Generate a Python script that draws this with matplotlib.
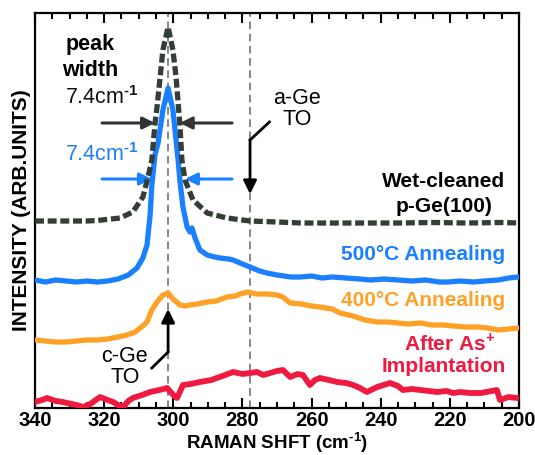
import matplotlib
matplotlib.use('Agg')
import matplotlib.pyplot as plt

plt.rcParams['font.family'] = ['Liberation Sans', 'DejaVu Sans']
plt.rcParams['font.weight'] = 'bold'
plt.rcParams['mathtext.fontset'] = 'custom'
plt.rcParams['mathtext.rm'] = 'Liberation Sans:bold'
plt.rcParams['mathtext.bf'] = 'Liberation Sans:bold'

# wet-cleaned p-Ge(100) reference
wet_x = [340, 335, 330, 325, 322, 318, 315.4, 311.7, 308.8, 307.3, 306.2, 305.3, 304.7, 303.8,
         303.0, 301.5, 300.1, 299.2, 298.5, 298.1, 297.5, 296.6, 294.3, 290.2, 284.5, 277.8,
         270, 263, 255, 245, 235, 225, 215, 205, 200]
wet_y = [187, 187, 187, 187, 187.5, 189, 190, 196, 211, 231, 248, 284, 301, 331,
         358, 381, 358, 331, 301, 284, 248, 228, 208, 195, 190, 187,
         186, 185, 185, 185, 185, 185.5, 185, 185.5, 185]

# 500C anneal
a500_x = [340, 337, 334, 331, 328, 325, 322, 319, 316, 313, 310.5, 308.8, 307.6, 306.7, 306.2,
          305.3, 304.4, 303.0, 301.5, 300.1, 299.2, 298.6, 298.1, 297.2, 296.0, 295.2, 294.6,
          293.7, 292.3, 290.2, 288, 286.5, 284, 282.7, 280, 277.8, 275, 272.9, 270, 266, 263.3,
          260, 257, 254, 250, 246, 243, 239, 235, 231, 227, 223, 220.5, 217, 213, 210, 206,
          203, 200.3]
a500_y = [128, 126, 128, 127, 126, 127, 126, 127, 129, 133, 140, 150, 163, 193, 223,
          253, 265, 298, 320, 298, 268, 248, 228, 201, 181, 176, 180,
          170, 158, 153, 151, 150, 149, 148, 144, 141, 137, 135, 133, 131, 131,
          132, 130, 131, 130, 129, 128, 129, 128, 127, 128, 126, 126, 127, 126, 127, 128,
          130, 131]

# 400C anneal
a400_x = [340, 337, 334, 331, 328, 325, 322, 319, 316, 313.4, 311, 309.6, 308.5, 307.6, 306.2,
          304.7, 303.0, 301.5, 300.1, 299, 298.1, 296.5, 295.2, 293, 290.2, 287.5, 284.5, 282,
          280.7, 278.4, 276, 272.9, 270, 268.3, 266.2, 263, 260, 257.6, 254, 251.8, 248, 244.5,
          241, 238, 235, 232, 228.6, 225.2, 222, 219, 215.6, 212, 209, 206.1, 203, 200.3]
a400_y = [68, 67, 66, 66, 67, 68, 68, 69, 71, 73, 76, 80, 83, 86, 98,
          106, 113, 115, 109, 106, 103, 102, 103, 104, 106, 107, 111, 112,
          114, 116, 114, 114, 113, 111, 105, 104, 102, 101, 99, 95, 92, 88,
          86, 86, 85, 84, 85, 83, 83, 82, 81, 81, 80, 78, 79, 80]

# as-implanted
imp_x = [340, 338, 336.5, 334, 332, 330.7, 328, 326.1, 324, 321.2, 319, 317.4, 315.5, 314.5, 313,
         311.7, 309, 306.7, 304, 301.8, 300.5, 299.5, 298.9, 297.2, 295, 292.3, 289, 287.4, 285,
         282.7, 280, 277.8, 275.8, 274, 272, 270, 268.3, 266.2, 264, 262.5, 260.5, 259, 257.6,
         255, 252.6, 250, 248, 246, 244, 241, 237.3, 235, 233.6, 231, 228.6, 226, 223.7, 221,
         219.1, 217, 214.2, 211, 208, 206.4, 205.5, 203, 200.6]
imp_y = [6, 8, 10, 7, 6, 5, 3, 1, 4, 11, 8, 6, 2, 1, 7,
         10, 13, 16, 18, 20, 15, 11, 10, 23, 24, 26, 28, 30, 33,
         36, 34, 35, 36, 33, 35, 37, 38, 31, 34, 33, 23, 28, 30,
         28, 26, 25, 23, 20, 16, 21, 25, 22, 18, 19, 18, 17, 16, 17,
         15, 16, 15, 15, 17, 18, 8, 11, 10]

c_ge_to = 301.5
a_ge_to = 277.8
xticks = [340, 320, 300, 280, 260, 240, 220, 200]

GRAY = '#333e34'
BLUE = '#1a80ff'
ORANGE = '#ffa126'
RED = '#f0193f'

FS_LAB = 15
FS_TXT = 15.5

fig = plt.figure(figsize=(5.35, 4.55), dpi=100)
ax = fig.add_axes([0.0654, 0.1033, 0.9047, 0.8681])

ax.axvline(c_ge_to, color='#666666', lw=1.1, ls=(0, (5, 3)), zorder=1)
ax.axvline(a_ge_to, color='#666666', lw=1.1, ls=(0, (5, 3)), zorder=1)

ax.plot(imp_x, imp_y, color=RED, lw=4.2, solid_joinstyle='round', zorder=3)
ax.plot(a400_x, a400_y, color=ORANGE, lw=3.8, solid_joinstyle='round', zorder=3)
ax.plot(a500_x, a500_y, color=BLUE, lw=3.8, solid_joinstyle='round', zorder=3)
ax.plot(wet_x, wet_y, color=GRAY, lw=3.8, dashes=(1.7, 0.7), dash_capstyle='butt', zorder=4)

ax.set_xlim(340, 200)
ax.set_ylim(0, 395)
ax.set_xticks(xticks)
ax.set_xticks(range(200, 341, 5), minor=True)
ax.set_yticks([])
ax.tick_params(axis='x', which='major', direction='in', top=True, length=7, width=1.5,
               labelsize=14.5, pad=2)
ax.tick_params(axis='x', which='minor', direction='in', top=True, length=4.5, width=1.5)
for lab in ax.get_xticklabels():
    lab.set_fontweight('bold')
for sp in ax.spines.values():
    sp.set_linewidth(1.6)

ax.set_xlabel(r'RAMAN SHFT (cm$^{\text{-1}}$)', fontsize=13.5, fontweight='bold', labelpad=0)
ax.set_ylabel('INTENSITY (ARB.UNITS)', fontsize=FS_LAB, fontweight='bold', labelpad=3)

# peak width annotations
ax.text(324.1, 364, 'peak', fontsize=FS_TXT, ha='center', va='center')
ax.text(324.1, 338, 'width', fontsize=FS_TXT, ha='center', va='center')
ax.text(320.6, 310, r'7.4cm$^{\text{-1}}$', fontsize=FS_TXT, ha='center', va='center',
        fontweight='normal', color='#111111')
ax.text(320.6, 253, r'7.4cm$^{\text{-1}}$', fontsize=FS_TXT, ha='center', va='center',
        fontweight='normal', color=BLUE)

arr_k = dict(arrowstyle='-|>', color='#333333', lw=2.2, mutation_scale=18, shrinkA=0, shrinkB=0)
ax.annotate('', xy=(305.3, 285), xytext=(320.6, 285), arrowprops=arr_k)
ax.annotate('', xy=(298.1, 285), xytext=(283.0, 285), arrowprops=arr_k)
arr_b = dict(arrowstyle='-|>', color=BLUE, lw=2.2, mutation_scale=18, shrinkA=0, shrinkB=0)
ax.annotate('', xy=(306.2, 229), xytext=(320.6, 229), arrowprops=arr_b)
ax.annotate('', xy=(296.6, 229), xytext=(283.0, 229), arrowprops=arr_b)

# a-Ge TO
ax.text(264.2, 310, 'a-Ge', fontsize=FS_TXT, ha='center', va='center', fontweight='normal')
ax.text(264.2, 289, 'TO', fontsize=FS_TXT, ha='center', va='center', fontweight='normal')
ax.plot([272.2, a_ge_to], [286, 268], color='black', lw=2, zorder=5)
ax.annotate('', xy=(a_ge_to, 214), xytext=(a_ge_to, 268),
            arrowprops=dict(arrowstyle='-|>', color='black', lw=2, mutation_scale=20,
                            shrinkA=0, shrinkB=0), zorder=5)

# c-Ge TO
ax.text(314.0, 52, 'c-Ge', fontsize=FS_TXT, ha='center', va='center', fontweight='normal')
ax.text(314.0, 30, 'TO', fontsize=FS_TXT, ha='center', va='center', fontweight='normal')
ax.plot([306.2, c_ge_to], [40, 56], color='black', lw=2, zorder=5)
ax.annotate('', xy=(c_ge_to, 99), xytext=(c_ge_to, 56),
            arrowprops=dict(arrowstyle='-|>', color='black', lw=2, mutation_scale=20,
                            shrinkA=0, shrinkB=0), zorder=5)

# series labels
ax.text(221.7, 227, 'Wet-cleaned', fontsize=FS_LAB, ha='center', va='center', color='black')
ax.text(221.7, 202, 'p-Ge(100)', fontsize=FS_LAB, ha='center', va='center', color='black')
ax.text(204.0, 154, '500°C Annealing', fontsize=FS_LAB, ha='right', va='center', color=BLUE)
ax.text(204.0, 108, '400°C Annealing', fontsize=FS_LAB, ha='right', va='center', color=ORANGE)
ax.text(220.0, 65, 'After As$^{+}$', fontsize=FS_LAB, ha='center', va='center', color=RED)
ax.text(221.7, 42, 'Implantation', fontsize=FS_LAB, ha='center', va='center', color=RED)

fig.savefig('out.png', dpi=100)
